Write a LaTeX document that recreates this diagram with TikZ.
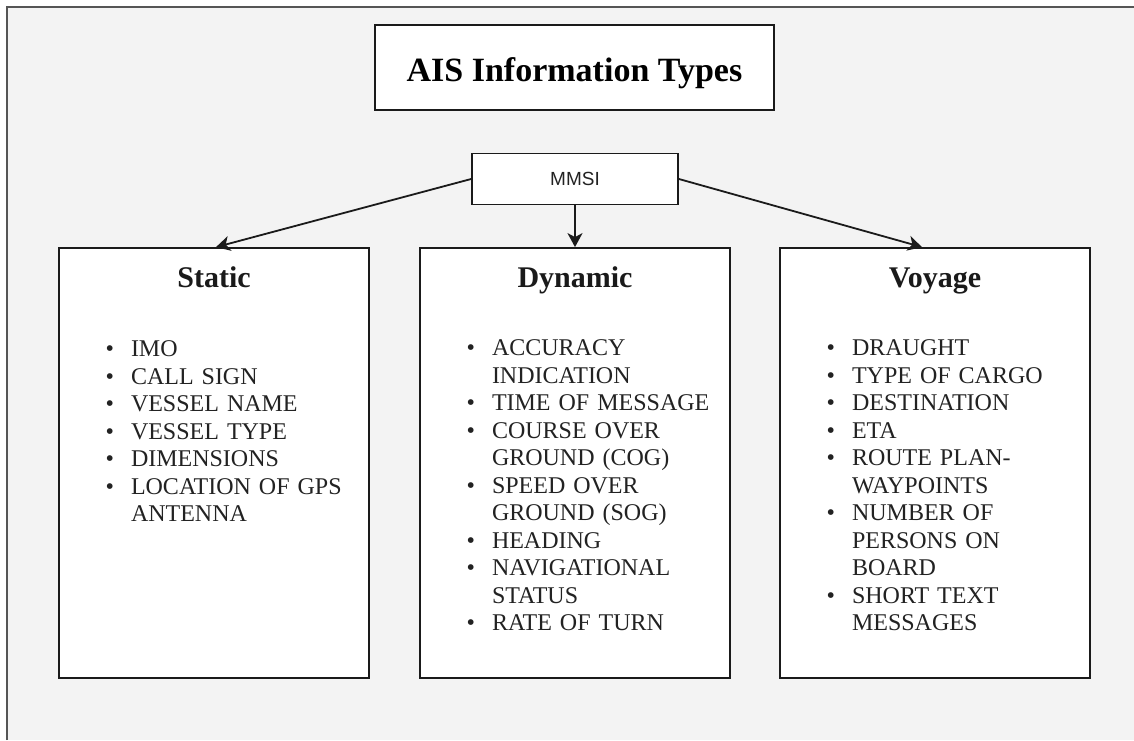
\documentclass[tikz,border=0pt]{standalone}
\usepackage{fontspec}
\setmainfont{Liberation Serif}
\newfontfamily\mmsifont{Liberation Sans}
\usepackage{enumitem}
\usetikzlibrary{arrows.meta, positioning, calc}
\definecolor{cframe}{HTML}{555555}
\definecolor{cbg}{HTML}{F3F3F3}
\definecolor{cline}{HTML}{1A1A1A}
\definecolor{ctext}{HTML}{222222}
\setlist[itemize]{nosep, leftmargin=23pt, labelsep=17pt, labelwidth=8pt,
  label={\fontsize{24}{24}\selectfont\textbullet}}
\tikzset{
  every picture/.style={line width=1.8pt},
  box/.style={draw=cline, fill=white, inner sep=0pt},
  head/.style={font=\fontsize{30}{34}\selectfont\bfseries, text=cline, inner sep=0pt},
  itemlist/.style={text width=260pt, align=left, inner sep=0pt, text=ctext,
    font=\fontsize{24}{27.5}\selectfont},
  arrow/.style={-{Stealth[length=14pt, width=15pt, inset=4pt]}, draw=cline, line width=1.8pt},
}

\begin{document}
\begin{tikzpicture}[x=1pt, y=-1pt]
  \useasboundingbox (0,0) rectangle (1134,740);
  % frame
  \fill[cbg] (7,7) rectangle (1134,740);
  \draw[cframe, line width=1.4pt] (7,740) -- (7,7) -- (1134,7);
  \node[box, minimum width=399pt, minimum height=85pt, text height=27pt, text depth=0pt,
    font=\fontsize{34}{40}\selectfont\bfseries] (title) at (574.5,67.5) {AIS Information Types};
  \node[box, minimum width=206pt, minimum height=51pt, text=ctext,
    font=\mmsifont\fontsize{19}{22}\selectfont] (mmsi) at (575,179) {MMSI};
  \foreach \n/\x in {static/214, dynamic/575, voyage/935}
    \node[box, minimum width=310pt, minimum height=430pt] (\n) at (\x,463) {};
  \foreach \n/\t in {static/Static, dynamic/Dynamic, voyage/Voyage}
    \node[head, anchor=base] (\n-head) at ($(\n.north)+(0,40)$) {\t};
  % lists
  \node[itemlist, anchor=north west] (static-list) at ($(static.north west)+(49,81)$) {%
    \begin{itemize}
      \item IMO
      \item CALL SIGN
      \item VESSEL NAME
      \item VESSEL TYPE
      \item DIMENSIONS
      \item LOCATION OF GPS\newline ANTENNA
    \end{itemize}};
  \node[itemlist, anchor=north west] (dynamic-list) at ($(dynamic.north west)+(49,80)$) {%
    \begin{itemize}
      \item ACCURACY\newline INDICATION
      \item TIME OF MESSAGE
      \item COURSE OVER\newline GROUND (COG)
      \item SPEED OVER\newline GROUND (SOG)
      \item HEADING
      \item NAVIGATIONAL\newline STATUS
      \item RATE OF TURN
    \end{itemize}};
  \node[itemlist, anchor=north west] (voyage-list) at ($(voyage.north west)+(49,80)$) {%
    \begin{itemize}
      \item DRAUGHT
      \item TYPE OF CARGO
      \item DESTINATION
      \item ETA
      \item ROUTE PLAN-\newline WAYPOINTS
      \item NUMBER OF\newline PERSONS ON\newline BOARD
      \item SHORT TEXT\newline MESSAGES
    \end{itemize}};
  % connectors
  \draw[arrow] (mmsi.west) -- ([xshift=2pt]static.north);
  \draw[arrow] (mmsi.south) -- (dynamic.north);
  \draw[arrow] (mmsi.east) -- ([xshift=-13pt]voyage.north);
\end{tikzpicture}
\end{document}
